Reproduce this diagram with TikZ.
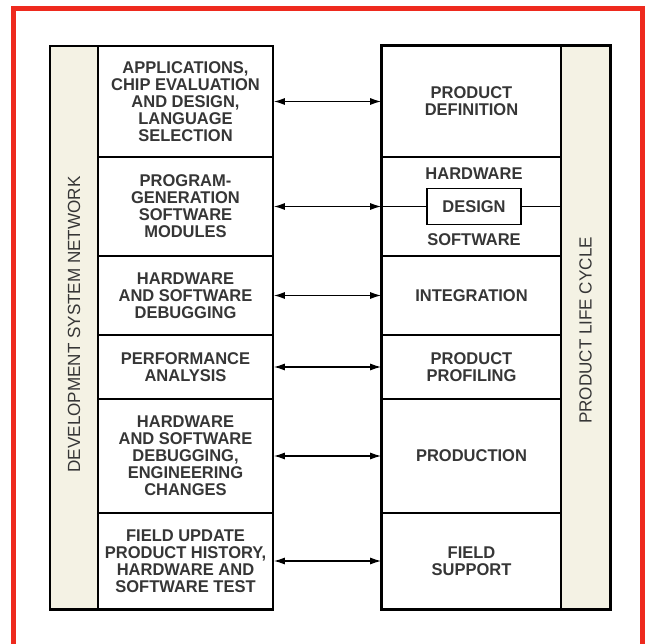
\documentclass[tikz,border=0pt]{standalone}
\usepackage{fontspec}
\setmainfont{Liberation Sans}[FakeStretch=0.97]
\usetikzlibrary{arrows.meta,positioning}
\definecolor{framered}{HTML}{EE2A1E}
\definecolor{barfill}{HTML}{F4F2E4}
\definecolor{ink}{HTML}{363636}

\begin{document}
\begin{tikzpicture}[
  x=1pt, y=-1pt,
  font=\fontsize{17}{17}\selectfont\bfseries,
  >={Latex[length=11pt,width=7pt]},
  %% Box styles
  devbox/.style  = {draw, line width=1.6pt, text=ink, align=center,
                    minimum width=175pt, inner sep=0pt},
  lifebox/.style = {draw, line width=1.6pt, text=ink, align=center,
                    minimum width=179pt, inner sep=0pt},
  sidebar/.style = {draw, line width=1.6pt, fill=barfill, rotate=90,
                    minimum width=563pt, minimum height=48pt, inner sep=0pt,
                    text=ink, font=\fontsize{17.6}{16}\selectfont\mdseries},
  designbox/.style = {draw, line width=1.3pt, text=ink,
                      minimum width=94pt, minimum height=36pt, inner sep=0pt},
  lbl/.style     = {text=ink, inner sep=0pt},
  panel/.style   = {draw, line width=2.6pt},
  arr/.style     = {<->, line width=1.3pt},
  lnk/.style     = {line width=1.3pt},
]
\useasboundingbox (0,0) rectangle (651,644);

%% ── Red frame ──────────────────────────────────────────────────
\draw[framered, line width=5pt] (13.5,8.5) rectangle (642,647);

%% ── Side bars ──────────────────────────────────────────────────
\node[sidebar] (devnet) at (74,327.5) {\hspace*{6pt}DEVELOPMENT SYSTEM NETWORK};
\node[sidebar] (cycle) at (585.5,327.5) {PRODUCT LIFE CYCLE\hspace*{6pt}};

%% ── Left column: development system ────────────────────────────
\node[devbox, minimum height=111pt] (appl) at (185.5,101.5)
  {APPLICATIONS,\\CHIP EVALUATION\\AND DESIGN,\\LANGUAGE\\SELECTION};
\node[devbox, minimum height=99pt] (proggen) at (185.5,206.5)
  {PROGRAM-\\GENERATION\\SOFTWARE\\MODULES};
\node[devbox, minimum height=79pt] (debug) at (185.5,295.5)
  {HARDWARE\\AND SOFTWARE\\DEBUGGING};
\node[devbox, minimum height=64pt] (perf) at (185.5,367)
  {PERFORMANCE\\ANALYSIS};
\node[devbox, minimum height=114pt] (engchg) at (185.5,456)
  {HARDWARE\\AND SOFTWARE\\DEBUGGING,\\ENGINEERING\\CHANGES};
\node[devbox, minimum height=96pt] (fieldupd) at (185.5,561)
  {FIELD UPDATE\\PRODUCT HISTORY,\\HARDWARE AND\\SOFTWARE TEST};

%% ── Right column: product life cycle ───────────────────────────
\node[lifebox, minimum height=111pt] (proddef) at (471.5,101.5)
  {PRODUCT\\DEFINITION};
\node[lifebox, minimum height=99pt] (hwsw) at (471.5,206.5) {};
\node[lifebox, minimum height=79pt] (integ) at (471.5,295.5)
  {INTEGRATION};
\node[lifebox, minimum height=64pt] (profil) at (471.5,367)
  {PRODUCT\\PROFILING};
\node[lifebox, minimum height=114pt] (prodn) at (471.5,456)
  {PRODUCTION};
\node[lifebox, minimum height=96pt] (fieldsup) at (471.5,561)
  {FIELD\\SUPPORT};

% design box inside the second row
\node[designbox] (design) at (474,206.5) {DESIGN};
\node[lbl, above=8pt of design] (hwlbl) {HARDWARE};
\node[lbl, below=8pt of design] (swlbl) {SOFTWARE};
\draw[lnk] (hwsw.west) -- (design.west);
\draw[lnk] (design.east) -- (hwsw.east);

%% ── Heavy outlines of both columns ─────────────────────────────
\draw[panel] (devnet.north west) rectangle (fieldupd.south east);
\draw[panel] (proddef.north west) rectangle (cycle.south west);

%% ── Arrows between the columns ─────────────────────────────────
\draw[arr] (appl.east) -- (proddef.west);
\draw[arr] (proggen.east) -- (hwsw.west);
\draw[arr] (debug.east) -- (integ.west);
\draw[arr] (perf.east) -- (profil.west);
\draw[arr] (engchg.east) -- (prodn.west);
\draw[arr] (fieldupd.east) -- (fieldsup.west);

\end{tikzpicture}
\end{document}
